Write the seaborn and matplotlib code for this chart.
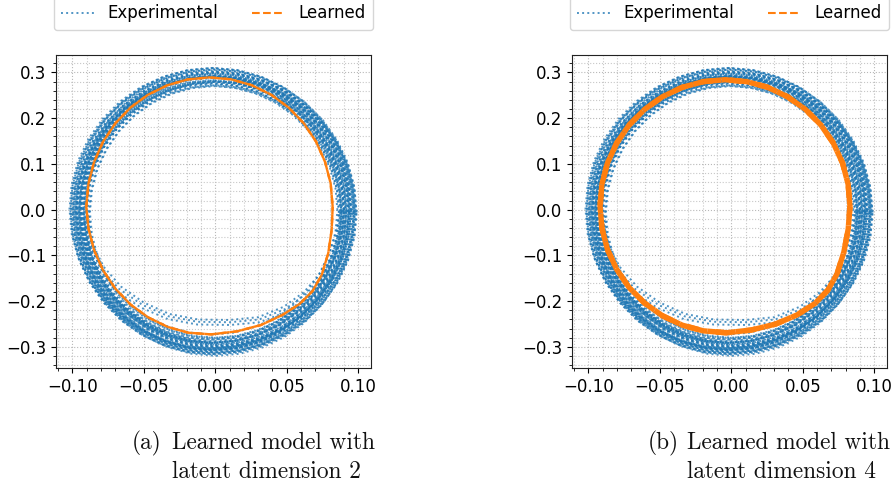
import numpy as np
import pandas as pd
import matplotlib
matplotlib.use("Agg")
import matplotlib.pyplot as plt
from matplotlib.lines import Line2D
from matplotlib.ticker import MultipleLocator
import seaborn as sns

# ---------------------------------------------------------------------------
# Phase-portrait data (x, y), one closed orbit per list, 10-degree steps
# ---------------------------------------------------------------------------
# median experimental orbit
mid_x = [0.0920, 0.0906, 0.0864, 0.0795, 0.0701, 0.0586, 0.0453, 0.0305, 0.0148,
         -0.0015, -0.0178, -0.0335, -0.0483, -0.0616, -0.0731, -0.0825, -0.0894, -0.0936,
         -0.0950, -0.0936, -0.0894, -0.0825, -0.0731, -0.0616, -0.0483, -0.0335, -0.0178,
         -0.0015, 0.0148, 0.0305, 0.0453, 0.0586, 0.0701, 0.0795, 0.0864, 0.0906]
mid_y = [-0.0040, 0.0468, 0.0959, 0.1420, 0.1837, 0.2197, 0.2489, 0.2704, 0.2836,
         0.2880, 0.2836, 0.2704, 0.2489, 0.2197, 0.1837, 0.1420, 0.0959, 0.0468,
         -0.0040, -0.0548, -0.1039, -0.1500, -0.1917, -0.2277, -0.2569, -0.2784, -0.2916,
         -0.2960, -0.2916, -0.2784, -0.2569, -0.2277, -0.1917, -0.1500, -0.1039, -0.0548]
orbit_center = (-0.0015, -0.004)

# per-revolution size and drift of the measured orbit
exp_sx = [0.932, 0.938, 0.944, 0.949, 0.953, 0.957, 0.961, 0.965, 0.969, 0.972,
          0.976, 0.979, 0.983, 0.986, 0.989, 0.993, 0.996, 0.999, 1.002, 1.006,
          1.009, 1.012, 1.016, 1.019, 1.022, 1.026, 1.029, 1.033, 1.036, 1.040,
          1.043, 1.047, 1.051, 1.054, 1.058, 1.062, 1.066, 1.069, 1.045, 0.975]
exp_sy = [0.945, 0.931, 0.962, 0.950, 0.972, 0.958, 0.981, 0.967, 0.990, 0.960,
          0.999, 0.985, 0.975, 1.008, 0.994, 1.017, 0.982, 1.026, 1.004, 1.035,
          0.998, 1.044, 1.013, 1.021, 1.053, 1.030, 1.012, 1.062, 1.040, 1.028,
          1.068, 1.049, 1.036, 1.058, 1.070, 1.046, 1.055, 1.064, 1.005, 1.020]
exp_dx = [0.0010, -0.0008, 0.0015, 0.0002, -0.0012, 0.0018, 0.0006, -0.0004, 0.0011, -0.0015,
          0.0004, 0.0013, -0.0006, 0.0009, -0.0010, 0.0016, 0.0001, -0.0007, 0.0012, 0.0003,
          -0.0011, 0.0007, 0.0014, -0.0003, 0.0005, -0.0009, 0.0002, 0.0017, -0.0013, 0.0008,
          -0.0002, 0.0012, -0.0016, 0.0006, -0.0005, 0.0010, -0.0008, 0.0003, 0.0019, -0.0014]
exp_dy = [-0.0020, 0.0030, -0.0050, 0.0010, -0.0030, 0.0040, -0.0010, 0.0020, -0.0060, 0.0000,
          0.0030, -0.0040, 0.0015, -0.0025, 0.0035, -0.0015, 0.0005, -0.0045, 0.0025, -0.0005,
          0.0040, -0.0035, 0.0010, -0.0020, 0.0030, -0.0010, 0.0000, -0.0055, 0.0045, -0.0030,
          0.0020, -0.0015, 0.0035, -0.0040, 0.0010, -0.0025, 0.0050, -0.0005, 0.0015, -0.0035]

# initial transient arc crossing the lower part of the orbit
trans_x = [-0.090, -0.086, -0.078, -0.066, -0.050, -0.032, -0.012, 0.010, 0.030,
           0.048, 0.062, 0.072, 0.079, 0.084, 0.087]
trans_y = [-0.020, -0.075, -0.125, -0.168, -0.203, -0.228, -0.240, -0.241, -0.235,
           -0.212, -0.180, -0.145, -0.100, -0.055, -0.010]
trans_dy = [0.000, -0.005, -0.011]

# learned model, latent dimension 2
learn2_x = [0.0821, 0.0807, 0.0768, 0.0705, 0.0619, 0.0513, 0.0390, 0.0254, 0.0110,
            -0.0040, -0.0190, -0.0334, -0.0470, -0.0593, -0.0699, -0.0785, -0.0848, -0.0887,
            -0.0902, -0.0887, -0.0848, -0.0785, -0.0699, -0.0593, -0.0470, -0.0334, -0.0190,
            -0.0030, 0.0150, 0.0320, 0.0470, 0.0590, 0.0680, 0.0745, 0.0790, 0.0814]
learn2_y = [0.0060, 0.0569, 0.1041, 0.1485, 0.1887, 0.2232, 0.2513, 0.2721, 0.2848,
            0.2890, 0.2848, 0.2721, 0.2513, 0.2232, 0.1887, 0.1485, 0.1041, 0.0569,
            0.0060, -0.0409, -0.0881, -0.1325, -0.1727, -0.2072, -0.2353, -0.2561, -0.2688,
            -0.2725, -0.2660, -0.2520, -0.2300, -0.2060, -0.1780, -0.1420, -0.0950, -0.0440]

# learned model, latent dimension 4
learn4_x = [0.0830, 0.0817, 0.0778, 0.0713, 0.0626, 0.0518, 0.0393, 0.0255, 0.0108,
            -0.0044, -0.0196, -0.0343, -0.0481, -0.0606, -0.0714, -0.0801, -0.0866, -0.0905,
            -0.0918, -0.0905, -0.0866, -0.0801, -0.0714, -0.0606, -0.0481, -0.0343, -0.0196,
            -0.0035, 0.0140, 0.0310, 0.0460, 0.0585, 0.0675, 0.0740, 0.0787, 0.0818]
learn4_y = [0.0075, 0.0556, 0.1021, 0.1458, 0.1853, 0.2193, 0.2469, 0.2674, 0.2798,
            0.2840, 0.2798, 0.2674, 0.2469, 0.2193, 0.1853, 0.1458, 0.1021, 0.0556,
            0.0075, -0.0406, -0.0871, -0.1308, -0.1703, -0.2043, -0.2319, -0.2524, -0.2648,
            -0.2690, -0.2630, -0.2500, -0.2300, -0.2050, -0.1760, -0.1400, -0.0930, -0.0420]

legend_labels = ["Experimental", "Learned"]
captions = [("(a)", "Learned model with", "latent dimension 2"),
            ("(b)", "Learned model with", "latent dimension 4")]

EXP_COLOR = "#1f77b4"
LEARN_COLOR = "#ff7f0e"


def closed(a):
    a = np.asarray(a, dtype=float)
    return np.append(a, a[0])


# assemble the measured trajectory as a long table, one unit per revolution
frames = []
cx, cy = orbit_center
mx, my = closed(mid_x), closed(mid_y)
for k in range(len(exp_sx)):
    frames.append(pd.DataFrame({
        "x": cx + exp_dx[k] + exp_sx[k] * (mx - cx),
        "y": cy + exp_dy[k] + exp_sy[k] * (my - cy),
        "loop": k,
    }))
for j, dy in enumerate(trans_dy):
    frames.append(pd.DataFrame({
        "x": np.asarray(trans_x) * (1 + 0.02 * j),
        "y": np.asarray(trans_y) + dy,
        "loop": len(exp_sx) + j,
    }))
exp_df = pd.DataFrame(pd.concat(frames, ignore_index=True))

fig = plt.figure(figsize=(8.95, 4.86), dpi=100)
W, H = 895.0, 486.0
axes_px = [(56, 55, 315, 313), (572, 55, 315, 313)]
learned = [(learn2_x, learn2_y, 1.7), (learn4_x, learn4_y, 3.9)]

for i, (px, py, pw, ph) in enumerate(axes_px):
    ax = fig.add_axes([px / W, 1 - (py + ph) / H, pw / W, ph / H])
    ax.set_axisbelow(True)

    sns.lineplot(data=exp_df, x="x", y="y", units="loop", estimator=None, sort=False,
                 color=EXP_COLOR, alpha=0.78, linestyle=":", linewidth=1.4,
                 legend=False, ax=ax)

    lx, ly, lw = learned[i]
    learn_df = pd.DataFrame({"x": closed(lx), "y": closed(ly), "loop": 0})
    # repeated revolutions of the limit cycle: dashes fall at alternating phases
    for off in (0.0, 3.7):
        sns.lineplot(data=learn_df, x="x", y="y", units="loop", estimator=None,
                     sort=False, color=LEARN_COLOR, linewidth=lw,
                     linestyle=(off, (3.7, 1.6)), ax=ax, legend=False)

    ax.set_xlim(-0.1114, 0.1089)
    ax.set_ylim(-0.346, 0.338)
    ax.xaxis.set_major_locator(MultipleLocator(0.05))
    ax.xaxis.set_minor_locator(MultipleLocator(0.01))
    ax.yaxis.set_major_locator(MultipleLocator(0.1))
    ax.yaxis.set_minor_locator(MultipleLocator(0.02))
    ax.grid(which="major", color="#b8b8b8", linestyle=":", linewidth=0.8)
    ax.grid(which="minor", color="#c8c8c8", linestyle=":", linewidth=0.8)
    ax.tick_params(which="major", labelsize=12, length=3.5, width=0.8)
    ax.tick_params(which="minor", length=2, width=0.6)
    ax.set_xlabel("")
    ax.set_ylabel("")
    for s in ax.spines.values():
        s.set_linewidth(0.8)
        s.set_color("#222222")

    handles = [Line2D([], [], color=EXP_COLOR, alpha=0.78, linestyle=":", linewidth=1.4),
               Line2D([], [], color=LEARN_COLOR, linestyle="--", linewidth=1.5)]
    ax.legend(handles, legend_labels, loc="lower center", bbox_to_anchor=(0.5, 1.08),
              borderaxespad=0.0, ncol=2, fontsize=12, handlelength=2.0,
              columnspacing=2.0, handletextpad=0.8, borderpad=0.45)

# sub-figure captions
cap_pos = [(132, 172), (648, 687)]
for (tag, line1, line2), (x_tag, x_txt) in zip(captions, cap_pos):
    kw = dict(family="cmr10", fontsize=16.8, va="baseline", ha="left", color="#111111")
    fig.text(x_tag / W, 1 - 449 / H, tag, **kw)
    fig.text(x_txt / W, 1 - 449 / H, line1, **kw)
    fig.text(x_txt / W, 1 - 478 / H, line2, **kw)

fig.savefig("out.png", dpi=100)
